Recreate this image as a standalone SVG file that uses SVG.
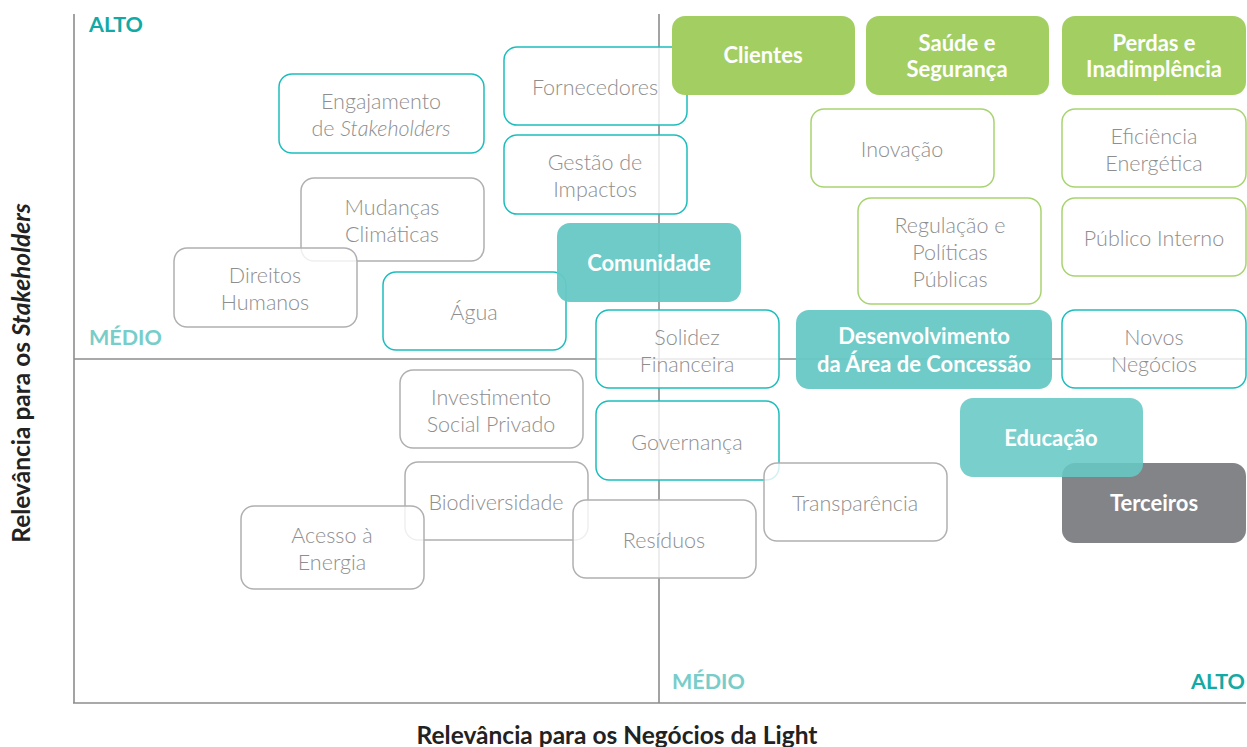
<svg xmlns="http://www.w3.org/2000/svg" width="1247" height="747" viewBox="0 0 1247 747">
<style>
.ax{stroke:#8c8c8c;stroke-width:1.6;fill:none}
.o{fill:#fff;fill-opacity:0.8;stroke-width:1.5}
.g{stroke:#a8d470}
.t{stroke:#1dbdbd}
.y{stroke:#b0b0b0}
.fg{fill:#a3cf62}
.ft{fill:#67c8c5;fill-opacity:0.95}
.fd{fill:#838487}
.lt{font-family:Lato,"Noto Sans","Liberation Sans",sans-serif;font-weight:300;font-size:21.5px;fill:#8e8e8e;text-anchor:middle}
.bd{font-family:Lato,"Noto Sans","Liberation Sans",sans-serif;font-weight:700;font-size:22px;fill:#fff;text-anchor:middle}
.lab{font-family:Lato,"Noto Sans","Liberation Sans",sans-serif;font-weight:700;font-size:21.5px}
.tit{font-family:Lato,"Noto Sans","Liberation Sans",sans-serif;font-weight:700;font-size:24.5px;fill:#222;text-anchor:middle}
</style>
<rect width="1247" height="747" fill="#fff"/>
<g id="axes">
<line class="ax" x1="74" y1="14" x2="74" y2="703"/>
<line class="ax" x1="73" y1="703" x2="1246" y2="703"/>
<line class="ax" x1="74" y1="359" x2="1246" y2="359"/>
<line class="ax" x1="659" y1="14" x2="659" y2="703"/>
</g>
<g id="axis-labels">
<text class="lab" x="89" y="32" fill="#13a9a5">ALTO</text>
<text class="lab" x="89" y="345" fill="#78cdca">MÉDIO</text>
<text class="lab" x="672" y="689" fill="#78cdca">MÉDIO</text>
<text class="lab" x="1245" y="689" fill="#13a9a5" text-anchor="end">ALTO</text>
<text class="tit" x="617" y="744">Relevância para os Negócios da Light</text>
<text class="tit" transform="translate(30,373) rotate(-90)">Relevância para os <tspan font-style="italic">Stakeholders</tspan></text>
</g>
<g id="n-engajamento"><rect class="o t" x="279" y="74" width="205" height="79" rx="13"/><text class="lt" x="381" y="109">Engajamento</text><text class="lt" x="381" y="136">de <tspan font-style="italic">Stakeholders</tspan></text></g>
<g id="n-fornecedores"><rect class="o t" x="504" y="47" width="183" height="78" rx="13"/><text class="lt" x="595" y="95">Fornecedores</text></g>
<g id="n-gestao"><rect class="o t" x="504" y="135" width="183" height="79" rx="13"/><text class="lt" x="595" y="170">Gestão de</text><text class="lt" x="595" y="197">Impactos</text></g>
<g id="n-mudancas"><rect class="o y" x="301" y="178" width="183" height="83" rx="13"/><text class="lt" x="392" y="215">Mudanças</text><text class="lt" x="392" y="242">Climáticas</text></g>
<g id="n-direitos"><rect class="o y" x="174" y="248" width="183" height="79" rx="13"/><text class="lt" x="265" y="283">Direitos</text><text class="lt" x="265" y="310">Humanos</text></g>
<g id="n-agua"><rect class="o t" x="383" y="272" width="183" height="78" rx="13"/><text class="lt" x="474" y="320">Água</text></g>
<g id="n-comunidade"><rect class="ft" x="557" y="223" width="184" height="79" rx="13"/><text class="bd" x="649" y="271">Comunidade</text></g>
<g id="n-solidez"><rect class="o t" x="596" y="310" width="183" height="78" rx="13"/><text class="lt" x="687" y="345">Solidez</text><text class="lt" x="687" y="372">Financeira</text></g>
<g id="n-investimento"><rect class="o y" x="400" y="370" width="183" height="78" rx="13"/><text class="lt" x="491" y="405">Investimento</text><text class="lt" x="491" y="432">Social Privado</text></g>
<g id="n-governanca"><rect class="o t" x="596" y="401" width="183" height="79" rx="13"/><text class="lt" x="687" y="450">Governança</text></g>
<g id="n-biodiversidade"><rect class="o y" x="405" y="462" width="183" height="78" rx="13"/><text class="lt" x="496" y="510">Biodiversidade</text></g>
<g id="n-acesso"><rect class="o y" x="241" y="506" width="183" height="83" rx="13"/><text class="lt" x="332" y="543">Acesso à</text><text class="lt" x="332" y="570">Energia</text></g>
<g id="n-residuos"><rect class="o y" x="573" y="500" width="183" height="78" rx="13"/><text class="lt" x="664" y="548">Resíduos</text></g>
<g id="n-transparencia"><rect class="o y" x="764" y="463" width="183" height="78" rx="13"/><text class="lt" x="855" y="511">Transparência</text></g>
<g id="n-clientes"><rect class="fg" x="672" y="16" width="183" height="79" rx="13"/><text class="bd" x="763" y="63">Clientes</text></g>
<g id="n-saude"><rect class="fg" x="866" y="16" width="183" height="79" rx="13"/><text class="bd" x="957" y="51">Saúde e</text><text class="bd" x="957" y="77">Segurança</text></g>
<g id="n-perdas"><rect class="fg" x="1062" y="16" width="184" height="79" rx="13"/><text class="bd" x="1154" y="51">Perdas e</text><text class="bd" x="1154" y="77">Inadimplência</text></g>
<g id="n-inovacao"><rect class="o g" x="811" y="109" width="183" height="78" rx="13"/><text class="lt" x="902" y="157">Inovação</text></g>
<g id="n-eficiencia"><rect class="o g" x="1062" y="109" width="184" height="78" rx="13"/><text class="lt" x="1154" y="144">Eficiência</text><text class="lt" x="1154" y="171">Energética</text></g>
<g id="n-regulacao"><rect class="o g" x="858" y="198" width="183" height="106" rx="13"/><text class="lt" x="950" y="233">Regulação e</text><text class="lt" x="950" y="260">Políticas</text><text class="lt" x="950" y="287">Públicas</text></g>
<g id="n-publico"><rect class="o g" x="1062" y="198" width="184" height="78" rx="13"/><text class="lt" x="1154" y="246">Público Interno</text></g>
<g id="n-desenvolvimento"><rect class="ft" x="796" y="310" width="256" height="79" rx="13"/><text class="bd" x="924" y="344">Desenvolvimento</text><text class="bd" x="924" y="372">da Área de Concessão</text></g>
<g id="n-novos"><rect class="o t" x="1062" y="310" width="184" height="78" rx="13"/><text class="lt" x="1154" y="345">Novos</text><text class="lt" x="1154" y="372">Negócios</text></g>
<g id="n-terceiros"><rect class="fd" x="1062" y="463" width="184" height="80" rx="13"/><text class="bd" x="1154" y="511">Terceiros</text></g>
<g id="n-educacao"><rect fill="#67c8c5" fill-opacity="0.88" x="960" y="398" width="183" height="79" rx="13"/><text class="bd" x="1051" y="446">Educação</text></g>
<g id="connectors"></g>
</svg>
